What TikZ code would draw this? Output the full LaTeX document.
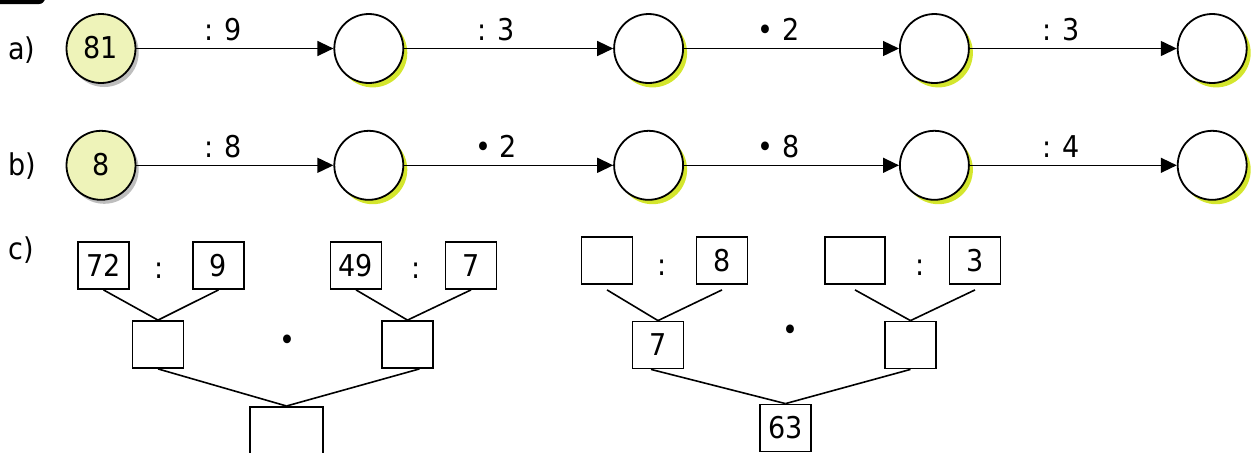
\documentclass[tikz,border=0pt]{standalone}
\usepackage{fontspec}
\setmainfont{DejaVu Sans Condensed}
\usetikzlibrary{arrows.meta,positioning,shadows}
\definecolor{cfill}{RGB}{238,243,185}
\definecolor{clime}{RGB}{212,230,45}
\definecolor{cshade}{RGB}{190,190,190}
\tikzset{
  given/.style ={circle, draw, line width=0.9pt, fill=cfill, minimum size=34.5pt,
                 inner sep=0pt, text height=1.05em,
                 drop shadow={shadow xshift=1.6pt, shadow yshift=-2pt, fill=cshade, opacity=1}},
  hole/.style  ={circle, draw, line width=0.9pt, fill=white, minimum size=34.5pt,
                 inner sep=0pt,
                 drop shadow={shadow xshift=2pt, shadow yshift=-2.2pt, fill=clime, opacity=1}},
  ar/.style    ={-{Triangle[length=8pt,width=7.5pt]}, line width=0.7pt},
  oplbl/.style ={above, inner sep=3.5pt},
  cell/.style  ={rectangle, draw, line width=0.9pt, minimum width=25.5pt,
                 minimum height=23.5pt, inner sep=0pt},
  wire/.style  ={line width=0.8pt},
  tag/.style   ={anchor=west, inner sep=0pt}
}

\begin{document}
\begin{tikzpicture}[x=0.5pt, y=-0.5pt, font=\fontsize{15}{17}\selectfont]
\clip (0,0) rectangle (1254,452);
\fill[rounded corners=3pt] (-10,-10) rectangle (45,4);

% a) chain
\node[tag] (la) at (8,50) {a)};
\node[given] (a0) at (101,48.5) {81};
\node[hole, right=98.5pt of a0] (a1) {};
\node[hole, right=104.5pt of a1] (a2) {};
\node[hole, right=107.5pt of a2] (a3) {};
\node[hole, right=103.5pt of a3] (a4) {};
\draw[ar] (a0) -- node[oplbl, pos=.44] {: 9} (a1);
\draw[ar] (a1) -- node[oplbl, pos=.44] {: 3} (a2);
\draw[ar] (a2) -- node[oplbl, pos=.44] {• 2} (a3);
\draw[ar] (a3) -- node[oplbl, pos=.44] {: 3} (a4);

% b) chain
\node[tag] (lb) at (8,166) {b)};
\node[given, below=23pt of a0] (b0) {8};
\node[hole, below=23pt of a1] (b1) {};
\node[hole, below=23pt of a2] (b2) {};
\node[hole, below=23pt of a3] (b3) {};
\node[hole, below=23pt of a4] (b4) {};
\draw[ar] (b0) -- node[oplbl, pos=.44] {: 8} (b1);
\draw[ar] (b1) -- node[oplbl, pos=.44] {• 2} (b2);
\draw[ar] (b2) -- node[oplbl, pos=.44] {• 8} (b3);
\draw[ar] (b3) -- node[oplbl, pos=.44] {: 4} (b4);

% c) left tree
\node[tag] (lc) at (8,250) {c)};
\node[cell] (p1) at (103.5,265.5) {72};
\node (k1) at (159,271) {:};
\node[cell] (p2) at (218.5,265.5) {9};
\node[cell] (p3) at (356,265.5) {49};
\node (k2) at (416,271) {:};
\node[cell] (p4) at (471,265.5) {7};
\node[cell] (q1) at (158,344.5) {};
\node[cell] (q2) at (407.5,344.5) {};
\node (d1) at (287,342.5) {•};
\node[cell, minimum width=36.6pt, minimum height=30pt, anchor=north] (s1) at (286.5,406) {};
\draw[wire] (p1.south) -- (q1.north);
\draw[wire] (p2.south) -- (q1.north);
\draw[wire] (p3.south) -- (q2.north);
\draw[wire] (p4.south) -- (q2.north);
\draw[wire] (q1.south) -- (s1.north);
\draw[wire] ([xshift=6pt]q2.south) -- (s1.north);

% c) right tree
\node[cell] (p5) at (607,260.5) {};
\node (k3) at (662,268) {:};
\node[cell] (p6) at (722,260.5) {8};
\node[cell, minimum width=30pt] (p7) at (855,260.5) {};
\node (k4) at (920,268) {:};
\node[cell] (p8) at (975,260.5) {3};
\node[cell] (q3) at (658,345) {7};
\node[cell] (q4) at (910.5,345) {};
\node (d2) at (790,332.5) {•};
\node[cell] (s2) at (785.5,428) {63};
\draw[wire] ([yshift=-2.5pt]p5.south) -- (q3.north);
\draw[wire] ([yshift=-2.5pt]p6.south) -- (q3.north);
\draw[wire] ([yshift=-2.5pt]p7.south) -- (q4.north);
\draw[wire] ([yshift=-2.5pt]p8.south) -- (q4.north);
\draw[wire] ([xshift=-3.5pt]q3.south) -- (s2.north);
\draw[wire] (q4.south) -- (s2.north);
\end{tikzpicture}
\end{document}
